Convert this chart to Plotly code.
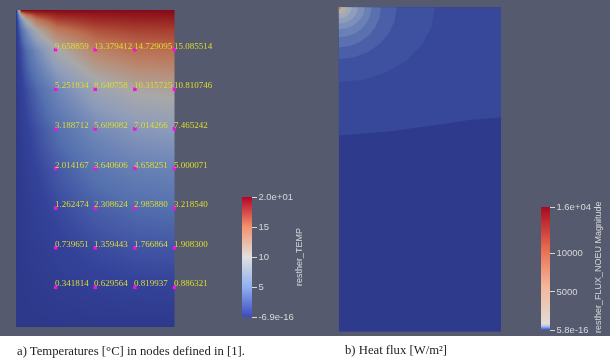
import plotly.graph_objects as go

# temperature table: depth below the hot edge (rows), distance from cold side (columns)
temp_x = [0, 0.125, 0.25, 0.5, 1, 2, 3, 4]
temp_depth = [0, 0.125, 0.25, 0.5, 1, 2, 3, 4, 5, 6, 7, 8]
temp_z = [
    [0, 20, 20, 20, 20, 20, 20, 20],
    [0, 10.0, 14.1, 16.9, 18.4, 19.0, 19.2, 19.3],
    [0, 5.9, 10.0, 14.1, 16.9, 18.1, 18.5, 18.6],
    [0, 3.1, 5.9, 9.9, 13.9, 16.3, 17.0, 17.2],
    [0, 1.5, 3.0, 5.6, 9.658859, 13.379412, 14.729095, 15.085514],
    [0, 0.75, 1.45, 2.75, 5.251834, 8.640758, 10.315725, 10.810746],
    [0, 0.42, 0.83, 1.62, 3.188712, 5.609082, 7.014266, 7.465242],
    [0, 0.26, 0.52, 1.02, 2.014167, 3.640606, 4.658251, 5.000071],
    [0, 0.16, 0.32, 0.64, 1.262474, 2.308624, 2.985880, 3.218540],
    [0, 0.09, 0.19, 0.37, 0.739651, 1.359443, 1.766864, 1.908300],
    [0, 0.04, 0.09, 0.17, 0.341814, 0.629564, 0.819937, 0.886321],
    [0, 0, 0, 0, 0, 0, 0, 0],
]

node_x = [1, 2, 3, 4]
node_depth = [1, 2, 3, 4, 5, 6, 7]
node_labels = [
    ["9.658859", "13.379412", "14.729095", "15.085514"],
    ["5.251834", "8.640758", "10.315725", "10.810746"],
    ["3.188712", "5.609082", "7.014266", "7.465242"],
    ["2.014167", "3.640606", "4.658251", "5.000071"],
    ["1.262474", "2.308624", "2.985880", "3.218540"],
    ["0.739651", "1.359443", "1.766864", "1.908300"],
    ["0.341814", "0.629564", "0.819937", "0.886321"],
]

# flux bands, outermost first: reach along the top edge and down the left edge
band_reach_x = [2.37, 1.43, 1.04, 0.81, 0.64, 0.47, 0.32, 0.2, 0.1, 0.05]
band_reach_d = [1.85, 1.28, 0.99, 0.74, 0.54, 0.40, 0.27, 0.17, 0.07, 0.05]
band_colors = ["#3e51a0", "#4a5fa8", "#5a70af", "#6b80b5", "#7d90ba", "#8e9dbc", "#a3a9b6", "#b6b0a2", "#c4a888", "#cc6a48"]
# quarter-turn fractions used to trace each band edge
edge_cos = [1, 0.966, 0.866, 0.707, 0.5, 0.259, 0]
edge_sin = [0, 0.259, 0.5, 0.707, 0.866, 0.966, 1]
# lowest band edge
low_x = [0, 1.19, 2.42, 3.23, 4]
low_depth = [3.16, 3.07, 2.9, 2.78, 2.72]

temp_ticks = [0, 5, 10, 15, 20]
temp_ticktext = ["-6.9e-16", "5", "10", "15", "2.0e+01"]
flux_ticks = [0, 5000, 10000, 16000]
flux_ticktext = ["5.8e-16", "5000", "10000", "1.6e+04"]

W, H = 610, 364
BG = "#555a6e"
TICK = "#d8d8d8"

field_scale = [[0, "#2d398b"], [0.05, "#34439a"], [0.1, "#4458a6"], [0.16, "#5470ae"], [0.25, "#6a82b6"],
               [0.375, "#8e9cba"], [0.5, "#a8a8a8"], [0.625, "#b88e78"], [0.75, "#bb6e50"],
               [0.875, "#a5382c"], [1, "#860a18"]]
temp_bar = [[0, "#3b4cc0"], [0.25, "#8fb0f0"], [0.5, "#e0e0e0"], [0.75, "#f4926c"], [1, "#b40426"]]
flux_bar = [[0, "#3b4cc0"], [0.03, "#a8c0f0"], [0.05, "#e0dcd4"], [0.35, "#f4b89a"], [0.65, "#ea6e50"], [1, "#a80a20"]]


def px_x(a, b):
    return [a / W, b / W]


def px_y(top, bottom):
    return [1 - bottom / H, 1 - top / H]


def color_bar(left, thick, bottom, length, ticks, ticktext):
    return dict(x=left / W, xanchor="left", xpad=0, ypad=0, y=1 - bottom / H, yanchor="bottom",
                len=length / H, thickness=thick, outlinewidth=0, tickmode="array",
                tickvals=ticks, ticktext=ticktext, ticks="outside", ticklen=5, tickcolor=TICK,
                tickfont=dict(family="Liberation Sans", size=9.5, color=TICK))


fig = go.Figure()

fig.add_trace(go.Heatmap(x=temp_x, y=temp_depth, z=temp_z, zmin=0, zmax=20, zsmooth="best",
                         colorscale=field_scale, showscale=False, xaxis="x", yaxis="y"))

notes = []
mx, my = [], []
for i, d in enumerate(node_depth):
    for j, x in enumerate(node_x):
        mx.append(x)
        my.append(d)
        notes.append(dict(text=node_labels[i][j], x=x, y=d, xref="x", yref="y", xanchor="left", yanchor="middle",
                          xshift=-3, yshift=4, showarrow=False,
                          font=dict(family="Liberation Serif", size=9, color="#dcdc30")))
fig.add_trace(go.Scatter(x=mx, y=my, mode="markers", cliponaxis=False,
                         marker=dict(symbol="square", size=3.5, color="#f010e0"),
                         xaxis="x", yaxis="y"))

# colour bar of the temperature view
fig.add_trace(go.Scatter(x=[None], y=[None], mode="markers", xaxis="x", yaxis="y",
                         marker=dict(color=[0], cmin=0, cmax=20, colorscale=temp_bar,
                                     colorbar=color_bar(242, 9.5, 317, 120, temp_ticks, temp_ticktext))))

# heat flux view
fig.add_trace(go.Scatter(x=[0, 4, 4, 0, 0], y=[0, 0, 8, 8, 0], mode="lines", fill="toself", fillcolor="#2e3a8c",
                         line=dict(width=0), xaxis="x2", yaxis="y2"))
fig.add_trace(go.Scatter(x=[0, 4] + low_x[::-1] + [0], y=[0, 0] + low_depth[::-1] + [0], mode="lines", fill="toself",
                         fillcolor="#37479a", line=dict(width=0), xaxis="x2", yaxis="y2"))
for a, b, col in zip(band_reach_x, band_reach_d, band_colors):
    fig.add_trace(go.Scatter(x=[0] + [a * c for c in edge_cos] + [0], y=[0] + [b * s for s in edge_sin] + [0],
                             mode="lines", fill="toself", fillcolor=col, line=dict(width=0), xaxis="x2", yaxis="y2"))

fig.add_trace(go.Scatter(x=[None], y=[None], mode="markers", xaxis="x2", yaxis="y2",
                         marker=dict(color=[0], cmin=0, cmax=16000, colorscale=flux_bar,
                                     colorbar=color_bar(541, 8.5, 330, 123, flux_ticks, flux_ticktext))))


def side_title(text, x, y):
    return dict(text=text, xref="paper", yref="paper", x=x / W, y=1 - y / H, xanchor="center", yanchor="middle",
                textangle=-90, showarrow=False, font=dict(family="Liberation Sans", size=9, color=TICK))


def caption(text, x, y):
    return dict(text=text, xref="paper", yref="paper", x=x / W, y=1 - y / H, xanchor="left", yanchor="middle",
                showarrow=False, font=dict(family="Liberation Serif", size=12.7, color="#222222"))


notes += [
    side_title("resther_TEMP", 299, 257),
    side_title("resther_FLUX_NOEU Magnitude", 598, 267),
    caption("a) Temperatures [°C] in nodes defined in [1].", 15, 351),
    caption("b) Heat flux [W/m²]", 343, 350),
]

axis = dict(visible=False, fixedrange=True)
fig.update_layout(
    width=W, height=H, margin=dict(l=0, r=0, t=0, b=0), paper_bgcolor="white", plot_bgcolor="rgba(0,0,0,0)",
    showlegend=False,
    xaxis=dict(axis, domain=px_x(16, 174.5), range=[0, 4]),
    yaxis=dict(axis, domain=px_y(10, 327), range=[8, 0]),
    xaxis2=dict(axis, domain=px_x(338.7, 501), range=[0, 4]),
    yaxis2=dict(axis, domain=px_y(7.3, 331.7), range=[8, 0]),
    shapes=[dict(type="rect", xref="paper", yref="paper", x0=0, x1=1, y0=1 - 336 / H, y1=1,
                 fillcolor=BG, line=dict(width=0), layer="below")],
    annotations=notes,
)

# the page's default body margin would push the figure 8px in; slight blur as the source is a low-res scan
fig.write_html("out.html", config={"displayModeBar": False},
               post_script="document.body.style.margin='0';"
                           "document.querySelector('.plotly-graph-div').style.filter='blur(0.4px)';")
